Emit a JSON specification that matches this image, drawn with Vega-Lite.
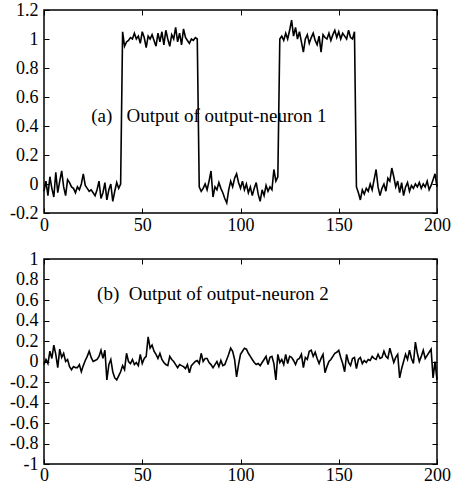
{
  "$schema": "https://vega.github.io/schema/vega-lite/v6.json",
  "padding": {"left": 8, "top": 0, "right": 0, "bottom": 0},
  "background": "white",
  "config": {
    "view": {"stroke": "black", "strokeWidth": 1.5},
    "axis": {
      "grid": false, "domain": false, "title": null,
      "ticks": true, "tickSize": -5, "tickColor": "black", "tickWidth": 1,
      "labelFont": "Liberation Serif", "labelFontSize": 18, "labelColor": "black",
      "labelOverlap": false, "labelFlush": false, "labelBound": false
    },
    "line": {"color": "black", "strokeWidth": 1.6}
  },
  "spacing": 14,
  "data": {"values": [
    {"t":0,"a":-0.05,"b":-0.03},{"t":1,"a":0.02,"b":0.02},{"t":2,"a":-0.08,"b":-0.02},{"t":3,"a":0.05,"b":0.1},{"t":4,"a":-0.03,"b":0.03},
    {"t":5,"a":-0.09,"b":0.16},{"t":6,"a":0.08,"b":0.07},{"t":7,"a":-0.06,"b":-0.06},{"t":8,"a":0.02,"b":0.12},{"t":9,"a":0.09,"b":0.04},
    {"t":10,"a":-0.02,"b":0.08},{"t":11,"a":-0.08,"b":0.0},{"t":12,"a":0.03,"b":0.02},{"t":13,"a":0.01,"b":-0.05},{"t":14,"a":-0.02,"b":-0.08},
    {"t":15,"a":-0.03,"b":-0.05},{"t":16,"a":-0.06,"b":-0.06},{"t":17,"a":-0.02,"b":-0.06},{"t":18,"a":-0.04,"b":-0.03},{"t":19,"a":0.0,"b":-0.1},
    {"t":20,"a":0.07,"b":-0.04},{"t":21,"a":-0.01,"b":0.01},{"t":22,"a":-0.03,"b":0.05},{"t":23,"a":-0.05,"b":0.1},{"t":24,"a":-0.04,"b":0.04},
    {"t":25,"a":-0.06,"b":0.0},{"t":26,"a":-0.08,"b":0.01},{"t":27,"a":-0.04,"b":0.02},{"t":28,"a":0.02,"b":0.05},{"t":29,"a":-0.1,"b":0.11},
    {"t":30,"a":-0.06,"b":0.03},{"t":31,"a":0.01,"b":0.11},{"t":32,"a":-0.11,"b":-0.18},{"t":33,"a":-0.04,"b":-0.03},{"t":34,"a":0.0,"b":0.02},
    {"t":35,"a":-0.12,"b":-0.1},{"t":36,"a":-0.05,"b":-0.16},{"t":37,"a":0.01,"b":-0.18},{"t":38,"a":-0.03,"b":-0.14},{"t":39,"a":0.0,"b":-0.1},
    {"t":40,"a":1.05,"b":-0.04},{"t":41,"a":0.95,"b":-0.08},{"t":42,"a":0.98,"b":0.08},{"t":43,"a":0.99,"b":0.0},{"t":44,"a":1.01,"b":-0.02},
    {"t":45,"a":1.0,"b":0.02},{"t":46,"a":1.04,"b":-0.03},{"t":47,"a":1.0,"b":-0.01},{"t":48,"a":1.02,"b":-0.04},{"t":49,"a":0.97,"b":0.07},
    {"t":50,"a":1.05,"b":-0.02},{"t":51,"a":1.01,"b":0.03},{"t":52,"a":0.94,"b":0.05},{"t":53,"a":1.02,"b":0.24},{"t":54,"a":1.0,"b":0.13},
    {"t":55,"a":1.03,"b":0.16},{"t":56,"a":0.99,"b":0.1},{"t":57,"a":0.95,"b":0.07},{"t":58,"a":1.04,"b":0.03},{"t":59,"a":0.98,"b":0.08},
    {"t":60,"a":1.05,"b":0.02},{"t":61,"a":0.96,"b":-0.01},{"t":62,"a":1.06,"b":-0.03},{"t":63,"a":1.0,"b":-0.04},{"t":64,"a":0.95,"b":0.05},
    {"t":65,"a":1.03,"b":0.02},{"t":66,"a":1.0,"b":0.0},{"t":67,"a":1.08,"b":-0.03},{"t":68,"a":0.98,"b":-0.06},{"t":69,"a":1.04,"b":-0.03},
    {"t":70,"a":0.96,"b":-0.04},{"t":71,"a":1.07,"b":-0.05},{"t":72,"a":1.01,"b":-0.07},{"t":73,"a":0.99,"b":-0.03},{"t":74,"a":0.97,"b":-0.11},
    {"t":75,"a":1.0,"b":-0.04},{"t":76,"a":0.99,"b":-0.02},{"t":77,"a":1.01,"b":0.0},{"t":78,"a":1.0,"b":0.01},{"t":79,"a":-0.02,"b":-0.02},
    {"t":80,"a":-0.05,"b":0.08},{"t":81,"a":-0.03,"b":0.0},{"t":82,"a":0.0,"b":0.03},{"t":83,"a":-0.04,"b":0.03},{"t":84,"a":0.02,"b":-0.01},
    {"t":85,"a":0.09,"b":-0.03},{"t":86,"a":-0.09,"b":-0.06},{"t":87,"a":-0.02,"b":-0.03},{"t":88,"a":-0.04,"b":0.0},{"t":89,"a":0.01,"b":-0.05},
    {"t":90,"a":-0.03,"b":0.01},{"t":91,"a":-0.06,"b":-0.04},{"t":92,"a":-0.1,"b":-0.03},{"t":93,"a":-0.13,"b":0.02},{"t":94,"a":-0.04,"b":0.07},
    {"t":95,"a":0.02,"b":0.13},{"t":96,"a":-0.02,"b":0.1},{"t":97,"a":0.04,"b":0.02},{"t":98,"a":0.07,"b":-0.15},{"t":99,"a":0.01,"b":-0.03},
    {"t":100,"a":-0.03,"b":0.07},{"t":101,"a":0.02,"b":0.1},{"t":102,"a":-0.04,"b":0.13},{"t":103,"a":0.0,"b":0.12},{"t":104,"a":-0.06,"b":0.08},
    {"t":105,"a":-0.02,"b":0.05},{"t":106,"a":-0.08,"b":0.02},{"t":107,"a":-0.03,"b":-0.01},{"t":108,"a":0.01,"b":-0.03},{"t":109,"a":-0.07,"b":-0.02},
    {"t":110,"a":-0.12,"b":-0.04},{"t":111,"a":-0.04,"b":-0.01},{"t":112,"a":-0.08,"b":0.02},{"t":113,"a":-0.01,"b":0.05},{"t":114,"a":-0.05,"b":-0.03},
    {"t":115,"a":-0.02,"b":0.04},{"t":116,"a":-0.04,"b":0.05},{"t":117,"a":0.1,"b":-0.02},{"t":118,"a":0.02,"b":-0.18},{"t":119,"a":0.05,"b":0.07},
    {"t":120,"a":1.0,"b":-0.01},{"t":121,"a":1.02,"b":0.02},{"t":122,"a":0.99,"b":-0.03},{"t":123,"a":1.04,"b":0.07},{"t":124,"a":1.0,"b":-0.02},
    {"t":125,"a":1.06,"b":0.05},{"t":126,"a":1.13,"b":0.04},{"t":127,"a":1.02,"b":0.01},{"t":128,"a":1.08,"b":-0.03},{"t":129,"a":1.0,"b":0.02},
    {"t":130,"a":1.05,"b":0.03},{"t":131,"a":0.98,"b":0.07},{"t":132,"a":0.91,"b":-0.06},{"t":133,"a":1.0,"b":0.04},{"t":134,"a":1.03,"b":0.02},
    {"t":135,"a":0.97,"b":0.1},{"t":136,"a":1.01,"b":0.11},{"t":137,"a":1.04,"b":0.05},{"t":138,"a":0.99,"b":0.09},{"t":139,"a":0.96,"b":0.03},
    {"t":140,"a":1.02,"b":-0.02},{"t":141,"a":0.91,"b":0.03},{"t":142,"a":1.03,"b":0.07},{"t":143,"a":1.01,"b":-0.11},{"t":144,"a":1.0,"b":-0.05},
    {"t":145,"a":1.04,"b":0.0},{"t":146,"a":0.99,"b":0.02},{"t":147,"a":1.03,"b":0.05},{"t":148,"a":1.06,"b":0.08},{"t":149,"a":1.01,"b":0.09},
    {"t":150,"a":1.05,"b":0.11},{"t":151,"a":1.0,"b":0.04},{"t":152,"a":1.04,"b":-0.02},{"t":153,"a":1.02,"b":-0.1},{"t":154,"a":1.0,"b":0.07},
    {"t":155,"a":1.06,"b":-0.01},{"t":156,"a":1.01,"b":-0.04},{"t":157,"a":1.0,"b":0.03},{"t":158,"a":1.05,"b":0.04},{"t":159,"a":-0.02,"b":-0.07},
    {"t":160,"a":-0.06,"b":0.02},{"t":161,"a":-0.11,"b":0.04},{"t":162,"a":-0.04,"b":-0.02},{"t":163,"a":-0.07,"b":0.01},{"t":164,"a":-0.03,"b":-0.01},
    {"t":165,"a":-0.05,"b":0.02},{"t":166,"a":0.0,"b":0.01},{"t":167,"a":-0.04,"b":0.05},{"t":168,"a":0.03,"b":0.03},{"t":169,"a":0.1,"b":0.02},
    {"t":170,"a":-0.02,"b":0.07},{"t":171,"a":-0.08,"b":0.03},{"t":172,"a":-0.03,"b":0.04},{"t":173,"a":0.0,"b":0.1},{"t":174,"a":-0.05,"b":0.05},
    {"t":175,"a":0.04,"b":0.03},{"t":176,"a":0.02,"b":0.13},{"t":177,"a":0.11,"b":0.06},{"t":178,"a":0.05,"b":-0.01},{"t":179,"a":-0.02,"b":0.04},
    {"t":180,"a":0.02,"b":0.07},{"t":181,"a":-0.06,"b":-0.16},{"t":182,"a":0.01,"b":-0.07},{"t":183,"a":-0.08,"b":0.0},{"t":184,"a":-0.02,"b":0.07},
    {"t":185,"a":0.01,"b":0.02},{"t":186,"a":-0.05,"b":0.11},{"t":187,"a":-0.01,"b":0.03},{"t":188,"a":-0.03,"b":-0.02},{"t":189,"a":0.0,"b":0.19},
    {"t":190,"a":-0.02,"b":0.08},{"t":191,"a":0.01,"b":0.0},{"t":192,"a":-0.03,"b":0.05},{"t":193,"a":0.0,"b":0.11},{"t":194,"a":-0.02,"b":0.03},
    {"t":195,"a":0.02,"b":0.06},{"t":196,"a":-0.04,"b":0.09},{"t":197,"a":-0.01,"b":0.12},{"t":198,"a":0.03,"b":-0.16},{"t":199,"a":0.07,"b":0.0},
    {"t":200,"a":-0.02,"b":-0.18}
  ]},
  "vconcat": [
    {
      "width": 393, "height": 203,
      "layer": [
        {
          "mark": {"type": "line"},
          "encoding": {
            "x": {"field": "t", "type": "quantitative", "scale": {"domain": [0, 200], "nice": false},
                  "axis": {"orient": "bottom", "values": [0, 50, 100, 150, 200], "labelPadding": 8}},
            "y": {"field": "a", "type": "quantitative", "scale": {"domain": [-0.2, 1.2], "nice": false, "zero": false},
                  "axis": {"orient": "left", "values": [-0.2, 0, 0.2, 0.4, 0.6, 0.8, 1, 1.2], "labelPadding": 11, "labelExpr": "'' + datum.value"}}
          }
        },
        {
          "mark": {"type": "line", "strokeOpacity": 0},
          "encoding": {
            "x": {"field": "t", "type": "quantitative", "axis": {"orient": "top", "values": [0, 50, 100, 150, 200], "labels": false}},
            "y": {"field": "a", "type": "quantitative", "axis": {"orient": "right", "values": [-0.2, 0, 0.2, 0.4, 0.6, 0.8, 1, 1.2], "labels": false}}
          }
        },
        {
          "data": {"values": [{}]},
          "mark": {"type": "text", "align": "left", "baseline": "alphabetic", "font": "Liberation Serif", "fontSize": 19, "color": "black"},
          "encoding": {
            "x": {"datum": 24, "type": "quantitative", "axis": null},
            "y": {"datum": 0.43, "type": "quantitative", "axis": null},
            "text": {"value": "(a)\u00a0\u00a0\u00a0Output of output-neuron 1"}
          }
        }
      ],
      "resolve": {"axis": {"x": "independent", "y": "independent"}}
    },
    {
      "width": 393, "height": 205,
      "layer": [
        {
          "mark": {"type": "line"},
          "encoding": {
            "x": {"field": "t", "type": "quantitative", "scale": {"domain": [0, 200], "nice": false},
                  "axis": {"orient": "bottom", "values": [0, 50, 100, 150, 200], "labelPadding": 7}},
            "y": {"field": "b", "type": "quantitative", "scale": {"domain": [-1, 1], "nice": false, "zero": false},
                  "axis": {"orient": "left", "values": [-1, -0.8, -0.6, -0.4, -0.2, 0, 0.2, 0.4, 0.6, 0.8, 1], "labelPadding": 11, "labelExpr": "'' + datum.value"}}
          }
        },
        {
          "mark": {"type": "line", "strokeOpacity": 0},
          "encoding": {
            "x": {"field": "t", "type": "quantitative", "axis": {"orient": "top", "values": [0, 50, 100, 150, 200], "labels": false}},
            "y": {"field": "b", "type": "quantitative", "axis": {"orient": "right", "values": [-1, -0.8, -0.6, -0.4, -0.2, 0, 0.2, 0.4, 0.6, 0.8, 1], "labels": false}}
          }
        },
        {
          "data": {"values": [{}]},
          "mark": {"type": "text", "align": "left", "baseline": "alphabetic", "font": "Liberation Serif", "fontSize": 19, "color": "black"},
          "encoding": {
            "x": {"datum": 27, "type": "quantitative", "axis": null},
            "y": {"datum": 0.6, "type": "quantitative", "axis": null},
            "text": {"value": "(b)\u00a0\u00a0Output of output-neuron 2"}
          }
        }
      ],
      "resolve": {"axis": {"x": "independent", "y": "independent"}}
    }
  ]
}
